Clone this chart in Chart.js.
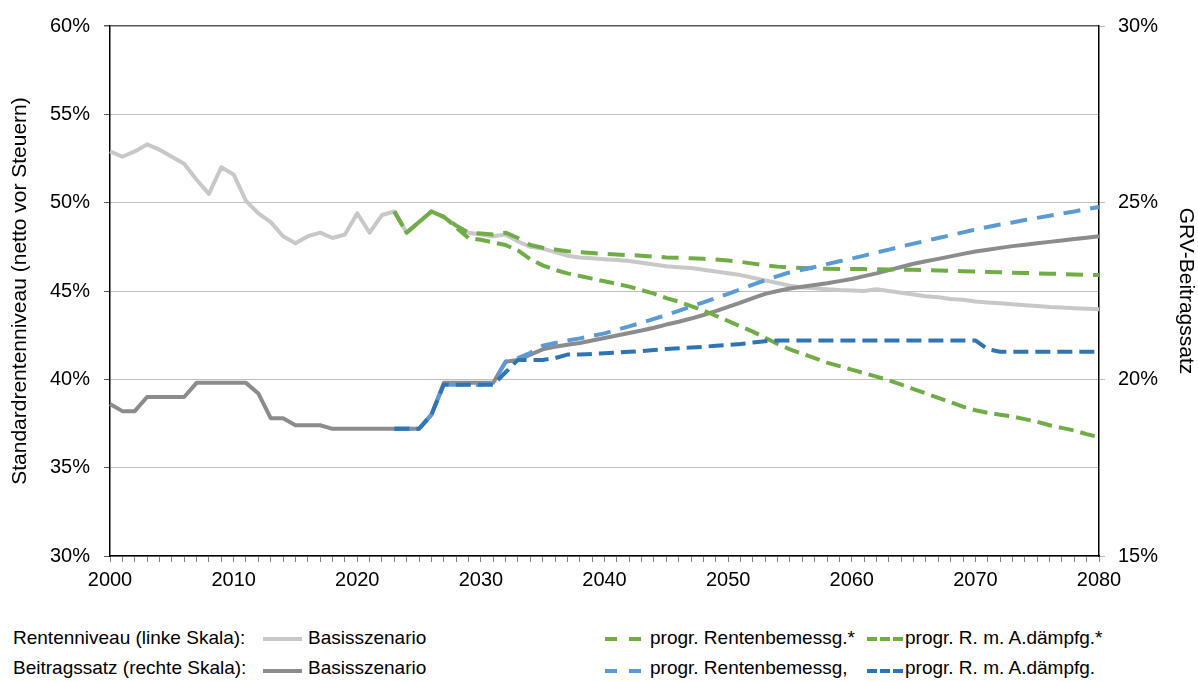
<!DOCTYPE html>
<html lang="de">
<head>
<meta charset="utf-8">
<title>Rentenniveau und Beitragssatz</title>
<script src="https://cdn.jsdelivr.net/npm/chart.js@4.4.1/dist/chart.umd.min.js"></script>
<style>
  body { margin: 0; background: #fff; font-family: "Liberation Sans", Arial, sans-serif; }
  #wrap { position: relative; width: 1198px; height: 682px; overflow: hidden; }
  #box { position: absolute; left: 0; top: 0; width: 1198px; height: 600px; }
  .lg { position: absolute; font-size: 19px; line-height: 22px; color: #000; white-space: nowrap; }
  .smp { position: absolute; }
</style>
</head>
<body>
<div id="wrap">
  <div id="box"><canvas id="chart"></canvas></div>

  <div class="lg" style="left:13px; top:627px;">Rentenniveau (linke Skala):</div>
  <svg class="smp" style="left:263px; top:634px;" width="40" height="10"><line x1="0" y1="5" x2="39" y2="5" stroke="#c8c8c8" stroke-width="4"/></svg>
  <div class="lg" style="left:308px; top:627px;">Basisszenario</div>

  <div class="lg" style="left:13px; top:657px;">Beitragssatz (rechte Skala):</div>
  <svg class="smp" style="left:263px; top:666px;" width="40" height="10"><line x1="0" y1="5" x2="39" y2="5" stroke="#8c8c8c" stroke-width="4"/></svg>
  <div class="lg" style="left:308px; top:657px;">Basisszenario</div>

  <svg class="smp" style="left:605px; top:634px;" width="36" height="10"><line x1="0" y1="5" x2="36" y2="5" stroke="#70ad47" stroke-width="4" stroke-dasharray="12 12"/></svg>
  <div class="lg" style="left:650px; top:627px;">progr. Rentenbemessg.*</div>
  <svg class="smp" style="left:867px; top:634px;" width="36" height="10"><line x1="0" y1="5" x2="36" y2="5" stroke="#70ad47" stroke-width="4" stroke-dasharray="10 3"/></svg>
  <div class="lg" style="left:905px; top:627px;">progr. R. m. A.dämpfg.*</div>

  <svg class="smp" style="left:605px; top:666px;" width="36" height="10"><line x1="0" y1="5" x2="36" y2="5" stroke="#5b9bd5" stroke-width="4" stroke-dasharray="12 12"/></svg>
  <div class="lg" style="left:650px; top:657px;">progr. Rentenbemessg,</div>
  <svg class="smp" style="left:867px; top:666px;" width="36" height="10"><line x1="0" y1="5" x2="36" y2="5" stroke="#2e75b6" stroke-width="4" stroke-dasharray="10 3"/></svg>
  <div class="lg" style="left:905px; top:657px;">progr. R. m. A.dämpfg.</div>
</div>

<script>
// years on the x axis
var years = [];
for (var y = 2000; y <= 2080; y++) years.push(y);

// Rentenniveau, left scale (%)
var rentenBasis = [
  52.9, 52.6, 52.9, 53.3, 53.0, 52.6, 52.2, 51.3, 50.5, 52.0,
  51.6, 50.1, 49.4, 48.9, 48.1, 47.7, 48.1, 48.3, 48.0, 48.2,
  49.4, 48.3, 49.3, 49.5, 48.3, 48.9, 49.5, 49.2, 48.7, 48.3,
  48.2, 48.1, 48.2, 47.8, 47.5, 47.4, 47.2, 47.0, 46.9, 46.85,
  46.8, 46.75, 46.7, 46.6, 46.5, 46.4, 46.35, 46.3, 46.2, 46.1,
  46.0, 45.9, 45.75, 45.6, 45.45, 45.3, 45.2, 45.15, 45.1, 45.05,
  45.03, 45.0, 45.1, 45.0, 44.9, 44.8, 44.7, 44.65, 44.55, 44.5,
  44.4, 44.35, 44.3, 44.25, 44.2, 44.15, 44.1, 44.07, 44.03, 44.0, 43.97
];
var rentenProgr = [
  null, null, null, null, null, null, null, null, null, null,
  null, null, null, null, null, null, null, null, null, null,
  null, null, null, 49.5, 48.3, 48.9, 49.5, 49.2, 48.7, 48.3,
  48.25, 48.2, 48.3, 48.0, 47.6, 47.45, 47.35, 47.25, 47.2, 47.15,
  47.1, 47.07, 47.03, 47.0, 46.95, 46.9, 46.88, 46.85, 46.82, 46.78,
  46.72, 46.65, 46.55, 46.45, 46.38, 46.33, 46.3, 46.28, 46.26, 46.25,
  46.25, 46.24, 46.23, 46.22, 46.21, 46.2, 46.18, 46.16, 46.14, 46.12,
  46.1, 46.08, 46.06, 46.04, 46.02, 46.0, 45.98, 45.96, 45.94, 45.92, 45.9
];
var rentenDaempf = [
  null, null, null, null, null, null, null, null, null, null,
  null, null, null, null, null, null, null, null, null, null,
  null, null, null, 49.5, 48.3, 48.9, 49.5, 49.2, 48.6, 48.0,
  47.9, 47.75, 47.6, 47.3, 46.8, 46.45, 46.2, 46.0, 45.85, 45.7,
  45.55, 45.4, 45.25, 45.05, 44.85, 44.6, 44.4, 44.15, 43.9, 43.6,
  43.3, 43.0, 42.7, 42.35, 42.0, 41.7, 41.45, 41.2, 40.95, 40.75,
  40.55, 40.35, 40.15, 39.95, 39.7, 39.45, 39.2, 38.95, 38.7, 38.45,
  38.25, 38.1, 38.0, 37.9, 37.75, 37.6, 37.4, 37.25, 37.1, 36.9, 36.72
];

// Beitragssatz, right scale (%)
var beitragBasis = [
  19.3, 19.1, 19.1, 19.5, 19.5, 19.5, 19.5, 19.9, 19.9, 19.9,
  19.9, 19.9, 19.6, 18.9, 18.9, 18.7, 18.7, 18.7, 18.6, 18.6,
  18.6, 18.6, 18.6, 18.6, 18.6, 18.6, 19.0, 19.9, 19.9, 19.9,
  19.9, 19.9, 20.5, 20.55, 20.7, 20.85, 20.92, 20.98, 21.03, 21.1,
  21.17, 21.24, 21.31, 21.38, 21.46, 21.55, 21.63, 21.72, 21.82, 21.93,
  22.05, 22.17, 22.3, 22.42, 22.5, 22.57, 22.62, 22.67, 22.72, 22.78,
  22.84, 22.92, 23.0, 23.09, 23.18, 23.27, 23.34, 23.41, 23.48, 23.55,
  23.62, 23.67, 23.72, 23.77, 23.81, 23.85, 23.89, 23.93, 23.97, 24.01, 24.05
];
var beitragProgr = [
  null, null, null, null, null, null, null, null, null, null,
  null, null, null, null, null, null, null, null, null, null,
  null, null, null, 18.6, 18.6, 18.6, 19.0, 19.85, 19.85, 19.85,
  19.85, 19.9, 20.5, 20.6, 20.75, 20.95, 21.03, 21.1, 21.16, 21.23,
  21.3, 21.4, 21.5, 21.6, 21.71, 21.82, 21.94, 22.06, 22.18, 22.3,
  22.42, 22.55, 22.68, 22.8, 22.92, 23.03, 23.1, 23.18, 23.26, 23.34,
  23.42, 23.5, 23.59, 23.67, 23.76, 23.84, 23.92, 24.0, 24.08, 24.16,
  24.24, 24.31, 24.38, 24.44, 24.51, 24.57, 24.63, 24.69, 24.75, 24.82, 24.88
];
var beitragDaempf = [
  null, null, null, null, null, null, null, null, null, null,
  null, null, null, null, null, null, null, null, null, null,
  null, null, null, 18.6, 18.6, 18.6, 19.0, 19.85, 19.85, 19.85,
  19.85, 19.85, 20.2, 20.55, 20.55, 20.55, 20.6, 20.7, 20.7, 20.72,
  20.74, 20.76, 20.78, 20.8, 20.83, 20.86, 20.88, 20.9, 20.92, 20.95,
  20.97, 21.0, 21.04, 21.08, 21.1, 21.1, 21.1, 21.1, 21.1, 21.1,
  21.1, 21.1, 21.1, 21.1, 21.1, 21.1, 21.1, 21.1, 21.1, 21.1,
  21.1, 20.85, 20.78, 20.78, 20.78, 20.78, 20.78, 20.78, 20.78, 20.78, 20.78
];

var longDash = [17, 10];
var shortDash = [15, 7];
var tickFont = { family: "'Liberation Sans', Arial, sans-serif", size: 20 };
var titleFont = { family: "'Liberation Sans', Arial, sans-serif", size: 21 };

function line(label, data, color, axis, dash) {
  return {
    label: label,
    data: data,
    yAxisID: axis,
    borderColor: color,
    backgroundColor: color,
    borderWidth: 4,
    borderDash: dash || [],
    borderCapStyle: 'butt',
    borderJoinStyle: 'round',
    pointRadius: 0,
    tension: 0,
    fill: false
  };
}

// first dataset is drawn on top
var datasets = [
  line('progr. R. m. A.dämpfg.', beitragDaempf, '#2e75b6', 'yR', shortDash),
  line('progr. Rentenbemessg,', beitragProgr, '#5b9bd5', 'yR', longDash),
  line('progr. R. m. A.dämpfg.*', rentenDaempf, '#70ad47', 'yL', shortDash),
  line('progr. Rentenbemessg.*', rentenProgr, '#70ad47', 'yL', longDash),
  line('Beitragssatz Basisszenario', beitragBasis, '#8c8c8c', 'yR'),
  line('Rentenniveau Basisszenario', rentenBasis, '#c8c8c8', 'yL')
];

new Chart(document.getElementById('chart'), {
  type: 'line',
  data: { labels: years, datasets: datasets },
  options: {
    responsive: true,
    maintainAspectRatio: false,
    animation: false,
    layout: { padding: { top: 24, left: 0, right: 0, bottom: 0 } },
    plugins: { legend: { display: false }, tooltip: { enabled: false } },
    scales: {
      x: {
        type: 'category',
        offset: false,
        afterFit: function (s) { s.height = 44; },
        border: { color: '#000', width: 1.5 },
        grid: { drawOnChartArea: false, drawTicks: true, tickLength: 6, tickColor: '#808080' },
        ticks: {
          autoSkip: false, maxRotation: 0, minRotation: 0, padding: 6,
          color: '#000', font: tickFont,
          callback: function (v, i) { var yr = years[i]; return yr % 10 === 0 ? String(yr) : ''; }
        }
      },
      yL: {
        position: 'left',
        min: 30, max: 60,
        afterFit: function (s) { s.width = 110; },
        border: { color: '#000', width: 1.5 },
        grid: {
          color: function (c) { return c.tick && c.tick.value === 60 ? '#595959' : '#bfbfbf'; },
          lineWidth: function (c) { return c.tick && c.tick.value === 60 ? 1.5 : 1; },
          tickLength: 6, tickColor: '#595959'
        },
        ticks: {
          stepSize: 5, padding: 14, color: '#000', font: tickFont,
          callback: function (v) { return v + '%'; }
        },
        title: {
          display: true, text: 'Standardrentenniveau (netto vor Steuern)',
          color: '#000', font: titleFont, padding: { top: 8, bottom: 0 }
        }
      },
      yR: {
        position: 'right',
        min: 15, max: 30,
        afterFit: function (s) { s.width = 99; },
        border: { color: '#000', width: 1.5 },
        grid: { drawOnChartArea: false, tickLength: 6, tickColor: '#bfbfbf' },
        ticks: {
          stepSize: 5, padding: 13, color: '#000', font: tickFont,
          callback: function (v) { return v + '%'; }
        },
        title: {
          display: true, text: 'GRV-Beitragssatz',
          color: '#000', font: titleFont, padding: { top: 0, bottom: 0 }
        }
      }
    }
  }
});
</script>
</body>
</html>
